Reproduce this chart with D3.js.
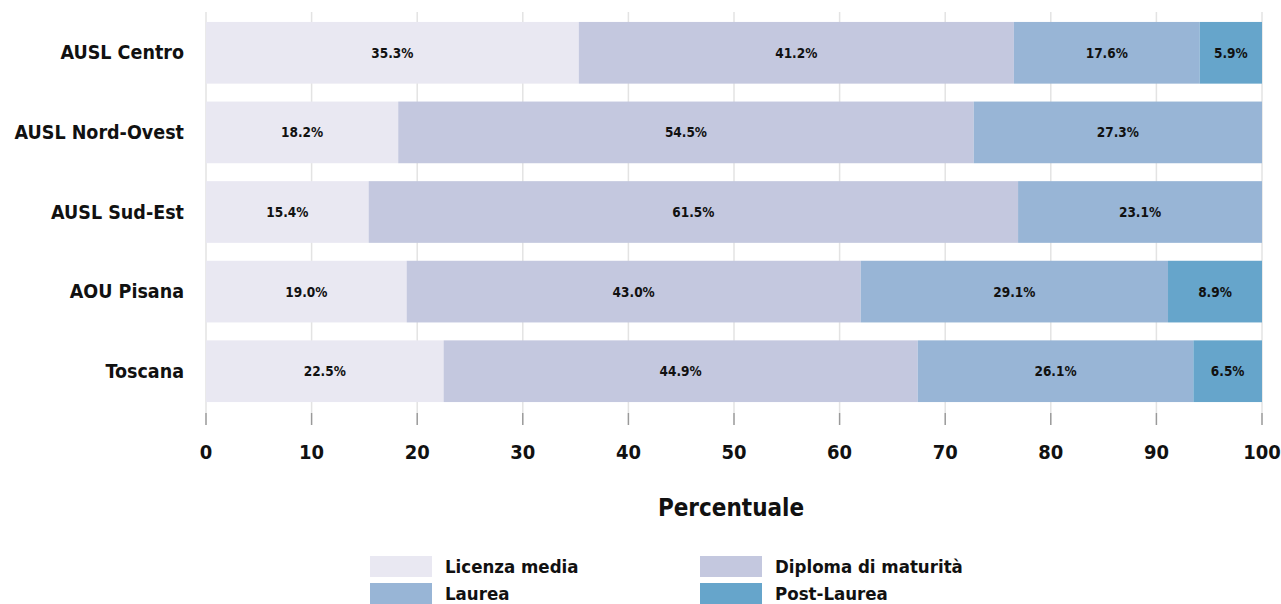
<!DOCTYPE html>
<html><head><meta charset="utf-8">
<script src="https://cdn.jsdelivr.net/npm/d3@7"></script>
<style>body{margin:0;background:#fff;} text{font-family:"DejaVu Sans Condensed","DejaVu Sans",sans-serif;font-weight:bold;}</style>
</head><body><svg id="c" width="1281" height="604"></svg>
<script>
const categories = ["AUSL Centro","AUSL Nord-Ovest","AUSL Sud-Est","AOU Pisana","Toscana"];
const seriesNames = ["Licenza media","Diploma di maturità","Laurea","Post-Laurea"];
const licenza = [35.3,18.2,15.4,19.0,22.5];
const diploma = [41.2,54.5,61.5,43.0,44.9];
const laurea = [17.6,27.3,23.1,29.1,26.1];
const postLaurea = [5.9,0,0,8.9,6.5];
const xTicks = [0,10,20,30,40,50,60,70,80,90,100];
const colors = ["#e9e8f2","#c4c8df","#98b5d6","#66a5cb"];

const svg = d3.select("#c");
const x = d3.scaleLinear().domain([0,100]).range([206,1262]);
const y = d3.scaleBand().domain(categories).range([12,412]).paddingInner(0.225).paddingOuter(0.125);

// grid
svg.append("g").selectAll("line").data(xTicks).join("line")
  .attr("x1",d=>x(d)).attr("x2",d=>x(d)).attr("y1",12).attr("y2",413)
  .attr("stroke","#e3e3e3").attr("stroke-width",1.5);
svg.append("g").selectAll("line").data(xTicks).join("line")
  .attr("x1",d=>x(d)).attr("x2",d=>x(d)).attr("y1",413).attr("y2",425)
  .attr("stroke","#999").attr("stroke-width",1.5);

const rows = categories.map((c,i)=>({cat:c, vals:[licenza[i],diploma[i],laurea[i],postLaurea[i]]}));
const stack = d3.stack().keys([0,1,2,3]).value((d,k)=>d.vals[k]);
const series = stack(rows);
series.forEach((s,k)=>{
  const g = svg.append("g");
  g.selectAll("rect").data(s.filter(d=>d[1]-d[0]>0)).join("rect")
    .attr("x",d=>x(d[0])).attr("width",d=>x(d[1])-x(d[0]))
    .attr("y",d=>y(d.data.cat)).attr("height",y.bandwidth())
    .attr("fill",colors[k]);
  g.selectAll("text").data(s.filter(d=>d[1]-d[0]>0)).join("text")
    .attr("x",d=>(x(d[0])+x(d[1]))/2).attr("y",d=>y(d.data.cat)+y.bandwidth()/2)
    .attr("text-anchor","middle").attr("dominant-baseline","central")
    .attr("font-size",13.5).attr("fill","#111")
    .text(d=>(d[1]-d[0]).toFixed(1)+"%");
});

// category labels
svg.append("g").selectAll("text").data(categories).join("text")
  .attr("x",184).attr("y",d=>y(d)+y.bandwidth()/2)
  .attr("text-anchor","end").attr("dominant-baseline","central")
  .attr("font-size",19.5).attr("fill","#111").text(d=>d);

// tick labels
svg.append("g").selectAll("text").data(xTicks).join("text")
  .attr("x",d=>x(d)).attr("y",452).attr("text-anchor","middle").attr("dominant-baseline","central")
  .attr("font-size",20).attr("fill","#111").text(d=>d);

svg.append("text").attr("x",731).attr("y",508).attr("text-anchor","middle").attr("dominant-baseline","central")
  .attr("font-size",24).attr("fill","#111").text("Percentuale");

// legend
const leg = [[370,556],[700,556],[370,583],[700,583]];
seriesNames.forEach((n,k)=>{
  svg.append("rect").attr("x",leg[k][0]).attr("y",leg[k][1]).attr("width",62).attr("height",21).attr("fill",colors[k]);
  svg.append("text").attr("x",leg[k][0]+75).attr("y",leg[k][1]+10.5).attr("dominant-baseline","central")
    .attr("font-size",18.5).attr("fill","#111").text(n);
});
</script></body></html>
